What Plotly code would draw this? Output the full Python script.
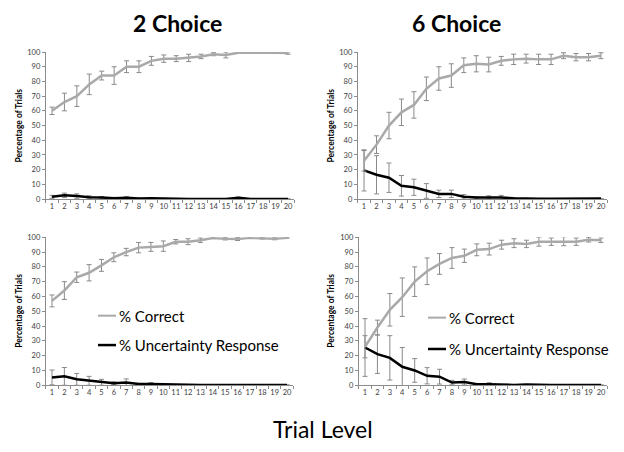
import plotly.graph_objects as go

trials = list(range(1, 21))
tick_labels = [str(t) for t in trials]

# 2 Choice, top
c2_top_correct = [60, 66, 70, 78, 84, 84, 90, 90, 94, 95.5, 95.5, 96, 97, 98.5, 98, 99.5, 99.5, 100, 99.5, 99.3]
c2_top_correct_err = [2.5, 6, 7, 7, 3, 6, 4, 4, 3, 2.5, 2, 2.5, 1.5, 1, 2, 0.5, 0.5, 0, 0.5, 0.8]
c2_top_unc = [1.5, 2.5, 2, 1.2, 1, 0.6, 0.8, 0.3, 0.5, 0.2, 0.2, 0.1, 0.1, 0.1, 0.1, 0.8, 0.1, 0.1, 0.1, 0.1]
c2_top_unc_err = [1, 1.5, 1.5, 1, 0.7, 0.5, 0.8, 0.3, 0.4, 0.2, 0.2, 0, 0, 0, 0, 0.5, 0, 0, 0, 0]

# 6 Choice, top
c6_top_correct = [26, 37, 50, 59, 64, 75, 82, 84, 91, 92, 91.5, 94, 95, 95.5, 95, 95, 97.5, 96.5, 96.5, 97.5]
c6_top_correct_err = [7, 6, 9, 9, 9, 8, 8, 8, 5, 5.5, 5, 3, 3.5, 3, 3.5, 3.5, 2, 2.5, 2.5, 2]
c6_top_unc = [19.5, 16.5, 14.5, 9, 8, 5.5, 3.5, 3.5, 1.5, 1, 1.2, 1, 0.5, 0.2, 0.2, 0.2, 0.3, 0.3, 0.3, 0.3]
c6_top_unc_err = [14, 13, 10, 7, 5.5, 5, 2.5, 2.5, 1.5, 0.5, 1, 1.5, 0.3, 0, 0, 0, 0, 0, 0, 0]

# 2 Choice, bottom
c2_bot_correct = [57, 64, 73, 76, 81, 86.5, 90, 93, 93.5, 94, 97, 97, 98, 99.5, 99, 98.8, 99.6, 99.3, 99, 99.7]
c2_bot_correct_err = [4, 6, 3.5, 5.5, 4, 3, 2.5, 3.5, 3, 3.5, 1.5, 2, 1.5, 0.3, 0.8, 1, 0.3, 0.5, 0.7, 0.3]
c2_bot_unc = [5.3, 6, 4, 3, 2, 1.4, 1.8, 0.8, 0.8, 0.6, 0.2, 0.2, 0.2, 0.2, 0.2, 0.3, 0.2, 0.2, 0.2, 0.2]
c2_bot_unc_err = [5, 6, 4, 3, 2, 1, 2.5, 0.5, 1, 0.3, 0, 0, 0, 0, 0, 0, 0, 0, 0, 0]

# 6 Choice, bottom
c6_bot_correct = [26, 39, 51, 59.5, 70, 77, 82, 86, 87.5, 91.5, 92, 95, 96, 95.5, 97, 97, 97.3, 97, 98.3, 98]
c6_bot_correct_err = [7.5, 5, 11, 13, 10, 9, 7, 7, 4.5, 4, 4, 3, 3, 2.5, 3, 2.5, 3, 2.5, 1.5, 1.5]
c6_bot_unc = [25.5, 21, 18.5, 12.5, 10, 6.4, 5.8, 1.8, 2.2, 0.7, 0.7, 0.2, 0.2, 0.5, 0.2, 0.2, 0.2, 0.2, 0.2, 0.2]
c6_bot_unc_err = [19.5, 13, 15, 13, 8, 5.5, 5, 1.5, 2, 0.5, 1, 0, 0, 0, 0, 0, 0, 0, 0, 0]

titles = ["2 Choice", "6 Choice"]
x_title = "Trial Level"
y_title = "Percentage of Trials"
legend_labels = ["% Correct", "% Uncertainty Response"]

GRAY = "#a9a9a9"
BLACK = "#000000"
ERR = "#8a8a8a"
AX = "#8c8c8c"
FONT = "Lato"

W, H = 624, 452

panels = [
    ("x", "y", c2_top_correct, c2_top_correct_err, c2_top_unc, c2_top_unc_err, (45.8, 294.2), (49, 199)),
    ("x2", "y2", c6_top_correct, c6_top_correct_err, c6_top_unc, c6_top_unc_err, (357.8, 607.2), (49, 199)),
    ("x3", "y3", c2_bot_correct, c2_bot_correct_err, c2_bot_unc, c2_bot_unc_err, (45.8, 293.2), (238, 389)),
    ("x4", "y4", c6_bot_correct, c6_bot_correct_err, c6_bot_unc, c6_bot_unc_err, (358.8, 607.2), (238, 389)),
]

fig = go.Figure()
layout = dict(
    width=W, height=H,
    margin=dict(l=0, r=0, t=0, b=0),
    paper_bgcolor="white", plot_bgcolor="white",
    showlegend=False,
    font=dict(family=FONT, color="#404040"),
)

for xa, ya, cor, cor_e, unc, unc_e, (x0, x1), (ytop, ybot) in panels:
    fig.add_trace(go.Scatter(
        x=trials, y=unc, mode="lines", xaxis=xa, yaxis=ya,
        line=dict(color=BLACK, width=2.5),
        error_y=dict(type="data", array=unc_e, color=ERR, thickness=1, width=2.5),
        name=legend_labels[1],
    ))
    fig.add_trace(go.Scatter(
        x=trials, y=cor, mode="lines", xaxis=xa, yaxis=ya,
        line=dict(color=GRAY, width=2.5),
        error_y=dict(type="data", array=cor_e, color=ERR, thickness=1, width=2.5),
        name=legend_labels[0],
    ))
    xkey = "xaxis" + xa[1:]
    ykey = "yaxis" + ya[1:]
    layout[xkey] = dict(
        domain=[x0 / W, x1 / W], anchor=ya, range=[0.5, 20.5],
        tickmode="array", tickvals=trials, ticktext=tick_labels,
        ticks="", showline=True, linecolor=AX, linewidth=1,
        showgrid=False, zeroline=False,
        tickfont=dict(size=7.5, color="#404040", family=FONT),
        minor=dict(tickmode="array", tickvals=[t + 0.5 for t in [0] + trials],
                   ticks="outside", ticklen=3, tickcolor=AX, showgrid=False),
    )
    layout[ykey] = dict(
        domain=[1 - ybot / H, 1 - ytop / H], anchor=xa, range=[0, 100],
        tickmode="linear", tick0=0, dtick=10,
        ticks="outside", ticklen=3, tickcolor=AX,
        showline=True, linecolor=AX, linewidth=1,
        showgrid=False, zeroline=False,
        tickfont=dict(size=7.5, color="#404040", family=FONT),
    )

fig.update_layout(**layout)


def note(text, xp, yp, size, xanchor="center", angle=0, weight="normal"):
    return dict(text=text, x=xp / W, y=1 - yp / H, xref="paper", yref="paper",
                xanchor=xanchor, yanchor="middle", showarrow=False, textangle=angle,
                font=dict(size=size, color="black", family=FONT, weight=weight))


ann = [
    note(titles[0], 177, 19, 23, weight="bold"),
    note(titles[1], 456, 19, 23, weight="bold"),
    note(x_title, 323, 434, 23),
]
for (xp, yp) in [(19, 124), (331, 124), (19, 313), (331, 313)]:
    ann.append(note(y_title, xp, yp, 8.5, angle=-90, weight="bold"))

shapes = []
for (lx0, lx1, tx, y1, y2) in [(98, 116, 117, 318, 348), (428, 446, 447, 320, 352)]:
    shapes.append(dict(type="line", xref="paper", yref="paper",
                       x0=lx0 / W, x1=lx1 / W, y0=1 - y1 / H, y1=1 - y1 / H,
                       line=dict(color=GRAY, width=2)))
    shapes.append(dict(type="line", xref="paper", yref="paper",
                       x0=lx0 / W, x1=lx1 / W, y0=1 - y2 / H, y1=1 - y2 / H,
                       line=dict(color=BLACK, width=2.5)))
    ann.append(note(legend_labels[0], tx, y1, 15, xanchor="left"))
    ann.append(note(legend_labels[1], tx, y2, 15, xanchor="left"))

fig.update_layout(annotations=ann, shapes=shapes)
fig.write_html("out.html", config={"displayModeBar": False},
               post_script="document.body.style.margin='0';")
